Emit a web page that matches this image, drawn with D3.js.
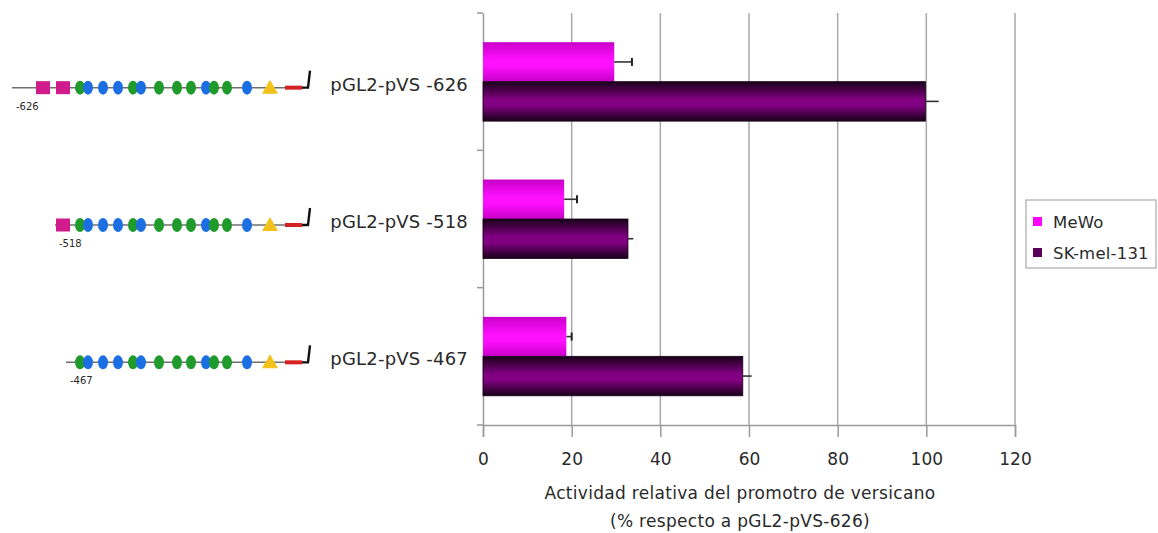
<!DOCTYPE html>
<html><head><meta charset="utf-8">
<script src="https://cdn.jsdelivr.net/npm/d3@7/dist/d3.min.js"></script>
<style>body{margin:0;background:#fff}svg{display:block}text{font-family:"DejaVu Sans",sans-serif;fill:#2a2a2a}</style>
</head><body><svg id="c" width="1158" height="533"></svg>
<script>
// ---- data ----
const categories = ["pGL2-pVS -626", "pGL2-pVS -518", "pGL2-pVS -467"];
const seriesNames = ["MeWo", "SK-mel-131"];
const mewoValues = [29.6, 18.3, 18.8];
const mewoErrors = [4.0, 2.9, 1.2];
const skValues = [99.8, 32.7, 58.6];
const skErrors = [3.0, 1.2, 2.0];
const xTicks = [0, 20, 40, 60, 80, 100, 120];
const xTitle = ["Actividad relativa del promotro de versicano", "(% respecto a pGL2-pVS-626)"];
// promoter schematic: site kinds and positions (schematic units), construct starts
const siteKinds = ["box","box","green","blue","blue","blue","green","blue","green","green","green","blue","green","green","blue","tri"];
const sitePos   = [43, 63, 80, 88, 103, 118, 133, 141, 159, 177, 191, 206, 214, 227, 247, 270];
const constructStarts = [12, 55, 66];
const constructLabels = ["-626", "-518", "-467"];

const svg = d3.select("#c");
const x = d3.scaleLinear().domain([0, 120]).range([483, 1015]);
const y = d3.scaleBand().domain(categories).range([13, 425]);
const yi = d3.scaleBand().domain(seriesNames).range([0, y.bandwidth()]).paddingOuter(0.74).paddingInner(0);
const sx = d3.scaleLinear().domain([0, 1]).range([0, 1]);

const defs = svg.append("defs");
function grad(id, edge, mid) {
  const g = defs.append("linearGradient").attr("id", id).attr("x1",0).attr("y1",0).attr("x2",0).attr("y2",1);
  g.append("stop").attr("offset","0%").attr("stop-color",edge);
  g.append("stop").attr("offset","45%").attr("stop-color",mid);
  g.append("stop").attr("offset","60%").attr("stop-color",mid);
  g.append("stop").attr("offset","100%").attr("stop-color",edge);
}
grad("gMewo", "#c800c8", "#ff10ff");
grad("gSk", "#180018", "#820082");
const fills = {"MeWo": "url(#gMewo)", "SK-mel-131": "url(#gSk)"};
const legendFills = {"MeWo": "#ff00ff", "SK-mel-131": "#5a005a"};

// gridlines
svg.append("g").selectAll("line").data(xTicks.slice(1)).join("line")
  .attr("x1", d => x(d)).attr("x2", d => x(d)).attr("y1", 13).attr("y2", 425)
  .attr("stroke", "#a8a8a8").attr("stroke-width", 1.5);

// x axis
const xa = svg.append("g").attr("transform", "translate(0,425)")
  .call(d3.axisBottom(x).tickValues(xTicks).tickSize(12).tickPadding(16));
xa.select(".domain").attr("stroke", "#9a9a9a").attr("stroke-width", 1.5);
xa.selectAll(".tick line").attr("stroke", "#9a9a9a").attr("stroke-width", 1.5);
xa.selectAll(".tick text").attr("font-size", 17).attr("font-family", "Lato, sans-serif").attr("fill", "#2a2a2a");

// y axis
const ya = svg.append("g").attr("transform", "translate(483,0)")
  .call(d3.axisLeft(y).tickSize(0).tickFormat(""));
ya.select(".domain").attr("stroke", "#9a9a9a").attr("stroke-width", 1.5);
const bounds = [13, ...categories.map(c => y(c) + y.bandwidth())];
svg.append("g").selectAll("line").data(bounds).join("line")
  .attr("x1", 477).attr("x2", 483).attr("y1", d => d).attr("y2", d => d)
  .attr("stroke", "#9a9a9a").attr("stroke-width", 1.5);

// bars
const rows = [];
categories.forEach((c, i) => {
  rows.push({cat: c, s: "MeWo", v: mewoValues[i], e: mewoErrors[i]});
  rows.push({cat: c, s: "SK-mel-131", v: skValues[i], e: skErrors[i]});
});
svg.append("g").selectAll("rect").data(rows).join("rect")
  .attr("x", x(0)).attr("y", d => y(d.cat) + yi(d.s))
  .attr("width", d => x(d.v) - x(0)).attr("height", yi.bandwidth())
  .attr("fill", d => fills[d.s])
  .attr("stroke", d => d.s === "MeWo" ? "none" : "#1a001a").attr("stroke-width", 0.8);

// error bars
const eg = svg.append("g");
rows.forEach(d => {
  const cy = y(d.cat) + yi(d.s) + yi.bandwidth() / 2;
  eg.append("line").attr("x1", x(d.v)).attr("x2", x(d.v + d.e)).attr("y1", cy).attr("y2", cy)
    .attr("stroke", "#333").attr("stroke-width", 1.6);
  if (d.s === "MeWo")
    eg.append("line").attr("x1", x(d.v + d.e)).attr("x2", x(d.v + d.e))
      .attr("y1", cy - 4).attr("y2", cy + 4).attr("stroke", "#222").attr("stroke-width", 2);
});

// x title
svg.append("g").selectAll("text").data(xTitle).join("text")
  .attr("x", 740).attr("y", (d, i) => 499 + i * 28).attr("text-anchor", "middle")
  .attr("font-size", 17).attr("letter-spacing", 0.3).text(d => d);

// category labels
svg.append("g").selectAll("text").data(categories).join("text")
  .attr("x", 468).attr("y", d => y(d) + y.bandwidth() / 2 + 9).attr("text-anchor", "end")
  .attr("font-size", 18).attr("letter-spacing", 0.2).text(d => d);

// legend
const lg = svg.append("g");
lg.append("rect").attr("x", 1026).attr("y", 200).attr("width", 130).attr("height", 68)
  .attr("fill", "#fff").attr("stroke", "#aaa").attr("stroke-width", 1.2);
seriesNames.forEach((s, i) => {
  lg.append("rect").attr("x", 1033).attr("y", 217 + i * 31).attr("width", 9).attr("height", 9).attr("fill", legendFills[s]);
  lg.append("text").attr("x", 1053).attr("y", 228 + i * 31).attr("font-size", 16.5).attr("letter-spacing", 0.2).text(s);
});

// promoter schematics
const colors = {box: "#d01b8c", green: "#1f9a2b", blue: "#1c6fe3", tri: "#f2c21a"};
categories.forEach((c, i) => {
  const cy = y(c) + y.bandwidth() / 2 + 6;
  const g = svg.append("g");
  const start = constructStarts[i];
  g.append("line").attr("x1", sx(start)).attr("x2", sx(304)).attr("y1", cy).attr("y2", cy)
    .attr("stroke", "#6f6f6f").attr("stroke-width", 1.5);
  siteKinds.forEach((k, j) => {
    const p = sitePos[j];
    if (p <= start) return;
    const px = sx(p);
    if (k === "box") g.append("rect").attr("x", px - 7).attr("y", cy - 6.5).attr("width", 14).attr("height", 13).attr("fill", colors.box);
    else if (k === "tri") g.append("path").attr("d", `M${px},${cy-8}L${px+8},${cy+6}L${px-8},${cy+6}Z`).attr("fill", colors.tri);
    else g.append("ellipse").attr("cx", px).attr("cy", cy).attr("rx", 5).attr("ry", 7).attr("fill", colors[k]);
  });
  g.append("rect").attr("x", sx(285)).attr("y", cy - 2).attr("width", sx(302) - sx(285)).attr("height", 4).attr("fill", "#d42222");
  g.append("path").attr("d", `M${sx(302)},${cy}L${sx(308)},${cy}L${sx(310)},${cy-17}`)
    .attr("fill", "none").attr("stroke", "#111").attr("stroke-width", 2.4);
  g.append("text").attr("x", sx(start) + 4).attr("y", cy + 22).attr("font-size", 10).text(constructLabels[i]);
});
</script></body></html>
